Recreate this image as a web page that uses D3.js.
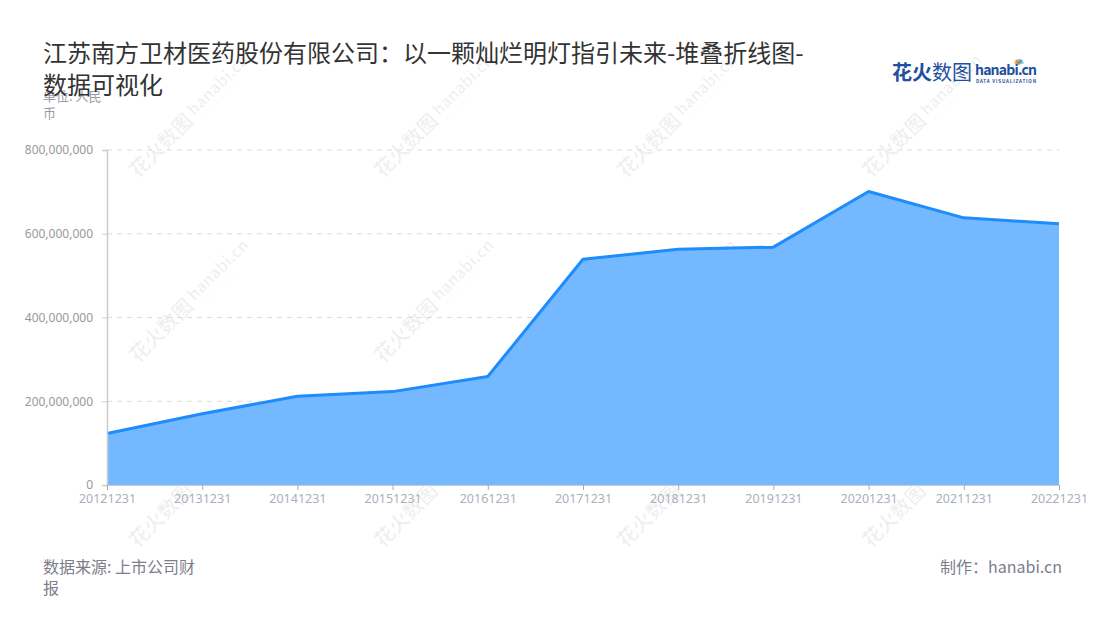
<!DOCTYPE html>
<html>
<head>
<meta charset="utf-8">
<script src="https://cdn.jsdelivr.net/npm/d3@7"></script>
<style>
html,body{margin:0;padding:0;background:#fff;}
svg{display:block;font-family:"Noto Sans CJK SC","Noto Sans",sans-serif;}
</style>
</head>
<body>
<svg id="chart" width="1100" height="620"></svg>
<script>
const categories = ["20121231","20131231","20141231","20151231","20161231","20171231","20181231","20191231","20201231","20211231","20221231"];
const values = [123000000,170000000,212000000,223000000,259000000,539000000,563000000,568000000,701000000,638000000,624000000];
const yTicks = [0,200000000,400000000,600000000,800000000];
const titleLines = ["江苏南方卫材医药股份有限公司：以一颗灿烂明灯指引未来-堆叠折线图-","数据可视化"];
const unitLines = ["单位: 人民","币"];
const sourceLines = ["数据来源: 上市公司财","报"];
const creditText = "制作：hanabi.cn";

const svg = d3.select("#chart");
const m = {left:107, right:1059, top:150, bottom:485};

// watermarks
const wmX = [183, 428, 671, 916];
const wmY = [125, 310, 495];
const wm = svg.append("g").attr("class","watermarks");
wmY.forEach(cy => wmX.forEach(cx => {
  const g = wm.append("g").attr("transform",`translate(${cx},${cy}) rotate(-45)`);
  g.append("text").attr("x",-70).attr("y",6).attr("font-size",20).attr("font-weight","bold")
    .attr("fill","#000").attr("fill-opacity",0.06).text("花火数图");
  g.append("text").attr("x",14).attr("y",2).attr("font-size",16).attr("font-weight","bold")
    .attr("fill","#000").attr("fill-opacity",0.06).text("hanabi.cn");
  g.append("text").attr("x",14).attr("y",10).attr("font-size",5)
    .attr("fill","#000").attr("fill-opacity",0.06).text("DATA VISUALIZATION");
}));

const x = d3.scalePoint().domain(categories).range([m.left, m.right]);
const y = d3.scaleLinear().domain([0, 800000000]).range([m.bottom, m.top]);

// grid
svg.append("g").selectAll("line").data(yTicks.filter(d=>d>0)).join("line")
  .attr("x1", m.left).attr("x2", m.right)
  .attr("y1", d=>y(d)).attr("y2", d=>y(d))
  .attr("stroke","#dcdcdc").attr("stroke-dasharray","5,5").attr("stroke-width",1);

// area
const area = d3.area().x((d,i)=>x(categories[i])).y0(y(0)).y1(d=>y(d));
svg.append("path").datum(values).attr("d", area).attr("fill","#74b9ff");
const line = d3.line().x((d,i)=>x(categories[i])).y(d=>y(d));
svg.append("path").datum(values).attr("d", line).attr("fill","none")
  .attr("stroke","#1e8cfa").attr("stroke-width",3).attr("stroke-linejoin","round");

// y axis
const ya = svg.append("g").attr("transform",`translate(${m.left},0)`)
  .call(d3.axisLeft(y).tickValues(yTicks).tickSize(5).tickPadding(9).tickFormat(d3.format(",")));
ya.select(".domain").attr("stroke","#cccccc").attr("stroke-width",1.5);
ya.selectAll(".tick line").attr("stroke","#cccccc");
ya.selectAll(".tick text").attr("fill","#999999").attr("font-size",12)
  .attr("font-family","'Noto Sans','Noto Sans CJK SC',sans-serif");

// x axis
const xa = svg.append("g").attr("transform",`translate(0,${m.bottom})`)
  .call(d3.axisBottom(x).tickSize(5).tickPadding(4));
xa.select(".domain").attr("stroke","#cccccc");
xa.selectAll(".tick line").attr("stroke","#aaaaaa");
xa.selectAll(".tick text").attr("fill","#aab0bd").attr("font-size",12.5)
  .attr("font-family","'Noto Sans','Noto Sans CJK SC',sans-serif");

// unit label
svg.append("g").selectAll("text").data(unitLines).join("text")
  .attr("x",43).attr("y",(d,i)=>101+i*17).attr("font-size",13).attr("fill","#9a9aa6").text(d=>d);

// title
svg.append("g").selectAll("text").data(titleLines).join("text")
  .attr("x",43).attr("y",(d,i)=>62+i*32).attr("font-size",24).attr("fill","#333333").text(d=>d);

// logo
const logo = svg.append("g");
logo.append("text").attr("x",892).attr("y",80).attr("font-size",20).attr("font-weight","bold")
  .attr("fill","#1e4fa0").text("花火");
logo.append("text").attr("x",932).attr("y",80).attr("font-size",20)
  .attr("fill","#1e4fa0").text("数图");
logo.append("text").attr("x",975).attr("y",75).attr("font-size",14).attr("font-weight","bold")
  .attr("fill","#1e4fa0").attr("textLength",62).text("hanabi.cn");
logo.append("text").attr("x",976).attr("y",83).attr("font-size",4.5).attr("font-weight","bold")
  .attr("fill","#1e4fa0").attr("textLength",60).text("DATA VISUALIZATION");
const starC = ["#f5a623","#e94e77","#7ed321","#4a90e2","#9b59b6","#50e3c2"];
starC.forEach((c,i)=>{
  const a = -Math.PI/2 + (i-2.5)*0.5;
  logo.append("line").attr("x1",1019).attr("y1",64).attr("x2",1019+5*Math.cos(a)).attr("y2",64+5*Math.sin(a))
    .attr("stroke",c).attr("stroke-width",1.5);
});

// footer
svg.append("g").selectAll("text").data(sourceLines).join("text")
  .attr("x",43).attr("y",(d,i)=>573+i*21).attr("font-size",16).attr("fill","#7d7d8c").text(d=>d);
svg.append("text").attr("x",1062).attr("y",573).attr("text-anchor","end").attr("font-size",16)
  .attr("fill","#7d7d8c").text(creditText);
</script>
</body>
</html>
